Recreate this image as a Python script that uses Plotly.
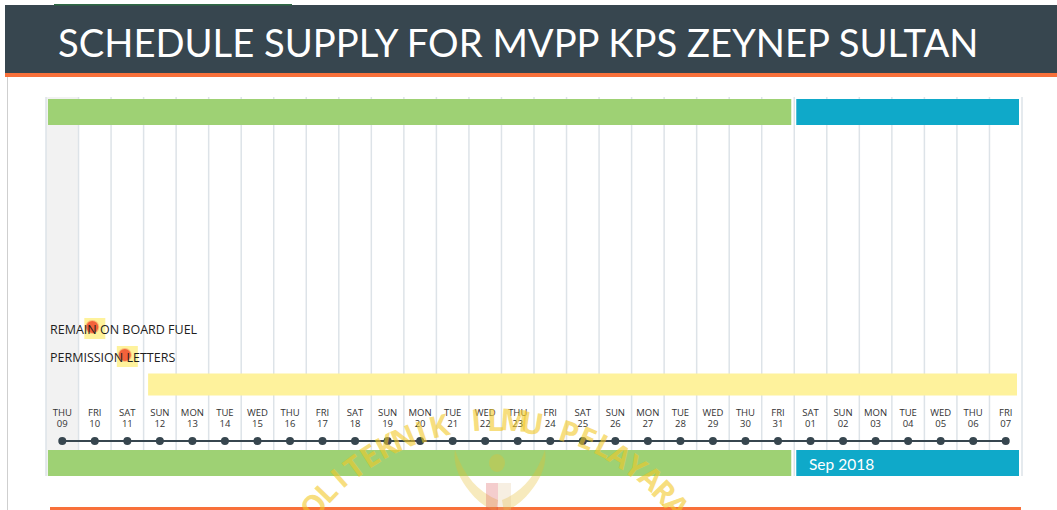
import math
import pandas as pd
import plotly.graph_objects as go

# ---------------- data ----------------
title_text = "SCHEDULE SUPPLY FOR MVPP KPS ZEYNEP SULTAN"
days = pd.date_range("2018-08-09", "2018-09-07", freq="D")
day_names = [d.strftime("%a").upper() for d in days]
day_nums = [d.strftime("%d") for d in days]
today = "2018-08-09"

month_labels = ["", "Sep 2018"]
month_starts = ["2018-08-09", "2018-09-01"]
month_ends = ["2018-08-31", "2018-09-07"]

task_names = ["REMAIN ON BOARD FUEL", "PERMISSION LETTERS", ""]
task_starts = ["2018-08-10", "2018-08-11", "2018-08-12"]
task_ends = ["2018-08-10", "2018-08-11", "2018-09-07"]

watermark_text = "POLITEKNIK ILMU PELAYARAN"

# ---------------- style ----------------
W, H = 1057, 510
DARK = "#37464f"
ORANGE = "#f8703a"
GREEN = "#9ed174"
BLUE = "#0fa9c9"
YELLOW = "#fef29c"
GRID = "#dde3e8"
month_colors = [GREEN, BLUE]

px_per_day = 976 / 30.0
first = pd.Timestamp(days[0])
r0 = first - pd.Timedelta(hours=12) - pd.Timedelta(days=46 / px_per_day)
r1 = r0 + pd.Timedelta(days=W / px_per_day)


def at(date, px=0.0, hours=0.0):
    t = pd.Timestamp(date) + pd.Timedelta(hours=hours) + pd.Timedelta(days=px / px_per_day)
    return t.isoformat()


shapes = []
annotations = []

# title bar
shapes.append(dict(type="rect", xref="paper", yref="y", x0=5 / W, x1=1, y0=5, y1=73,
                   fillcolor=DARK, line_width=0, layer="below"))
shapes.append(dict(type="rect", xref="paper", yref="y", x0=54 / W, x1=292 / W, y0=4, y1=5.5,
                   fillcolor="#2f6a45", line_width=0, layer="below"))
shapes.append(dict(type="rect", xref="paper", yref="y", x0=5 / W, x1=1, y0=73, y1=77,
                   fillcolor=ORANGE, line_width=0, layer="below"))
shapes.append(dict(type="line", xref="paper", yref="y", x0=7.5 / W, x1=7.5 / W, y0=77, y1=510,
                   line=dict(color="#cfcfcf", width=1), layer="below"))
annotations.append(dict(xref="paper", yref="y", x=56 / W, y=42, text=title_text, showarrow=False,
                        xanchor="left", yanchor="middle",
                        font=dict(family="Lato, Open Sans, sans-serif", size=38.2, color="white")))

# today column shading
shapes.append(dict(type="rect", xref="x", yref="y", x0=at(today, hours=-12), x1=at(today, hours=12),
                   y0=97, y1=476, fillcolor="#f2f2f2", line_width=0, layer="below"))
# grid lines at column boundaries
for d in list(days) + [days[-1] + pd.Timedelta(days=1)]:
    xx = at(d, hours=-12)
    shapes.append(dict(type="line", xref="x", yref="y", x0=xx, x1=xx, y0=97, y1=476,
                       line=dict(color=GRID, width=1.5), layer="below"))

# month bars top and bottom
for lab, s, e, c in zip(month_labels, month_starts, month_ends, month_colors):
    for y0, y1 in [(99, 125), (450, 476)]:
        shapes.append(dict(type="rect", xref="x", yref="y", x0=at(s, px=2, hours=-12),
                           x1=at(e, px=-3, hours=12), y0=y0, y1=y1,
                           fillcolor=c, line_width=0, layer="below"))
    if lab:
        annotations.append(dict(xref="x", yref="y", x=at(s, px=13, hours=-12), y=463.5, text=lab,
                                showarrow=False, xanchor="left", yanchor="middle",
                                font=dict(family="Lato, Open Sans, sans-serif", size=15.5, color="white")))

# tasks
row0, row_h = 328.5, 28
ms_x, ms_y = [], []
for i, (n, s, e) in enumerate(zip(task_names, task_starts, task_ends)):
    yc = row0 + row_h * i
    if s == e:
        shapes.append(dict(type="rect", xref="x", yref="y", x0=at(s, px=-10.5), x1=at(s, px=10.5),
                           y0=yc - 10.5, y1=yc + 10.5, fillcolor=YELLOW, line_width=0, layer="below"))
        ms_x.append(at(s, px=-2.5))
        ms_y.append(yc - 1.5)
    else:
        shapes.append(dict(type="rect", xref="x", yref="y", x0=at(s, px=4.5, hours=-12),
                           x1=at(e, px=-5, hours=12), y0=yc - 11, y1=yc + 11,
                           fillcolor=YELLOW, line_width=0, layer="below"))
    if n:
        annotations.append(dict(xref="paper", yref="y", x=48 / W, y=yc + 1, text=n, showarrow=False,
                                xanchor="left", yanchor="middle",
                                font=dict(family="Open Sans, sans-serif", size=12.5, color="#1e1e1e")))

# bottom orange rule
shapes.append(dict(type="rect", xref="paper", yref="y", x0=50 / W, x1=1021 / W, y0=507, y1=511,
                   fillcolor=ORANGE, line_width=0, layer="below"))

fig = go.Figure()
fig.add_trace(go.Scatter(x=[at(d) for d in days], y=[441] * len(days), mode="lines+markers",
                         line=dict(color=DARK, width=2), marker=dict(size=8, color=DARK),
                         hoverinfo="skip"))
fig.add_trace(go.Scatter(x=ms_x, y=ms_y, mode="markers",
                         marker=dict(size=12, color="#f3623b",
                                     line=dict(color="rgba(243,98,59,0.35)", width=2)),
                         hoverinfo="skip"))
fig.add_trace(go.Scatter(x=[at(d) for d in days], y=[413.5] * len(days), mode="text", text=day_names,
                         textfont=dict(family="Open Sans, sans-serif", size=9.5, color="#333333"),
                         hoverinfo="skip"))
fig.add_trace(go.Scatter(x=[at(d) for d in days], y=[424.5] * len(days), mode="text", text=day_nums,
                         textfont=dict(family="Open Sans, sans-serif", size=9.5, color="#333333"),
                         hoverinfo="skip"))

# ---------------- watermark (logo overlay) ----------------
wm_col = "rgba(242,200,40,0.6)"
cx, cy, rad = 495, 655, 236
n = len(watermark_text)
step = 4.6
for k, ch in enumerate(watermark_text):
    if ch == " ":
        continue
    ang = (k - (n - 1) / 2) * step
    a = math.radians(ang)
    lx = cx + rad * math.sin(a)
    ly = cy - rad * math.cos(a)
    annotations.append(dict(xref="paper", yref="y", x=lx / W, y=ly, text="<b>%s</b>" % ch,
                            showarrow=False, xanchor="center", yanchor="middle", textangle=ang,
                            font=dict(family="Open Sans, sans-serif", size=30, color=wm_col)))
gold = "rgba(230,190,50,0.32)"
shapes.append(dict(type="path", xref="paper", yref="y",
                   path="M %f 500 Q %f 488 %f 450 Q %f 470 %f 492 Q %f 505 %f 512 Z" % (
                       498 / W, 468 / W, 455 / W, 452 / W, 470 / W, 480 / W, 496 / W),
                   fillcolor=gold, line_width=0))
shapes.append(dict(type="path", xref="paper", yref="y",
                   path="M %f 500 Q %f 488 %f 450 Q %f 470 %f 492 Q %f 505 %f 512 Z" % (
                       502 / W, 532 / W, 545 / W, 548 / W, 530 / W, 520 / W, 504 / W),
                   fillcolor=gold, line_width=0))
shapes.append(dict(type="circle", xref="paper", yref="y", x0=489 / W, x1=505 / W, y0=454, y1=472,
                   fillcolor=gold, line_width=0))
shapes.append(dict(type="rect", xref="paper", yref="y", x0=486 / W, x1=498 / W, y0=483, y1=510,
                   fillcolor="rgba(220,90,90,0.3)", line_width=0))
shapes.append(dict(type="rect", xref="paper", yref="y", x0=498 / W, x1=511 / W, y0=483, y1=510,
                   fillcolor="rgba(225,190,140,0.25)", line_width=0))

fig.update_layout(
    width=W, height=H, margin=dict(l=0, r=0, t=0, b=0),
    paper_bgcolor="white", plot_bgcolor="white", showlegend=False,
    xaxis=dict(type="date", range=[r0.isoformat(), r1.isoformat()], visible=False, fixedrange=True),
    yaxis=dict(range=[H, 0], visible=False, fixedrange=True),
    shapes=shapes, annotations=annotations,
)
fig.write_html("out.html", config={"displayModeBar": False},
               post_script="document.body.style.margin='0px';document.body.style.overflow='hidden';")
